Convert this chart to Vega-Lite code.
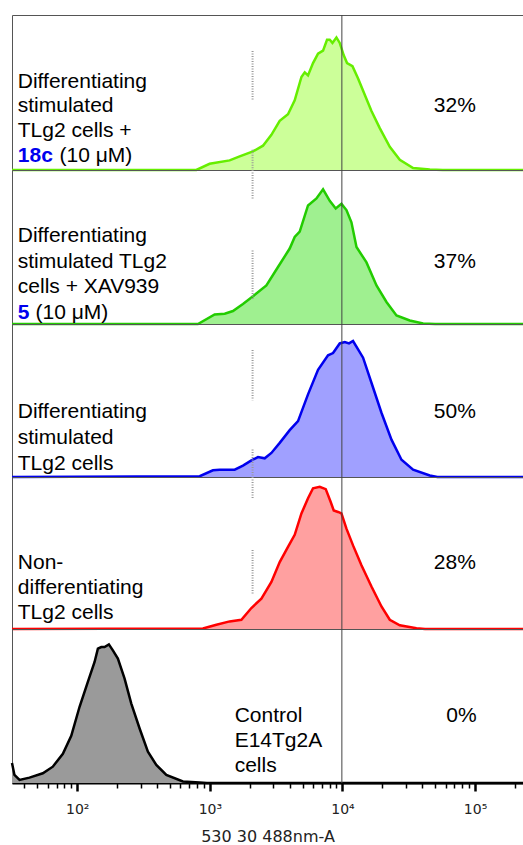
{
  "$schema": "https://vega.github.io/schema/vega-lite/v6.json",
  "background": "white",
  "padding": {"left": 6, "top": 14, "right": 0, "bottom": 0},
  "spacing": 0,
  "bounds": "flush",
  "config": {"view": {"stroke": "#555", "strokeWidth": 1}, "font": "Liberation Sans"},
  "datasets": {
    "curves": [
      {"panel": 1, "x": 32.2, "f": 0}, {"panel": 1, "x": 791, "f": 0}, {"panel": 1, "x": 996, "f": 0.04}, {"panel": 1, "x": 1410, "f": 0.062}, {"panel": 1, "x": 1679, "f": 0.088}, {"panel": 1, "x": 2115, "f": 0.12}, {"panel": 1, "x": 2517, "f": 0.157}, {"panel": 1, "x": 2912, "f": 0.227}, {"panel": 1, "x": 3365, "f": 0.317}, {"panel": 1, "x": 3885, "f": 0.36}, {"panel": 1, "x": 4365, "f": 0.45}, {"panel": 1, "x": 4906, "f": 0.6}, {"panel": 1, "x": 5194, "f": 0.63}, {"panel": 1, "x": 5500, "f": 0.61}, {"panel": 1, "x": 6000, "f": 0.69}, {"panel": 1, "x": 6545, "f": 0.75}, {"panel": 1, "x": 7141, "f": 0.77}, {"panel": 1, "x": 7652, "f": 0.84}, {"panel": 1, "x": 8021, "f": 0.84}, {"panel": 1, "x": 8405, "f": 0.82}, {"panel": 1, "x": 9010, "f": 0.855}, {"panel": 1, "x": 9541, "f": 0.82}, {"panel": 1, "x": 10228, "f": 0.74}, {"panel": 1, "x": 10832, "f": 0.69}, {"panel": 1, "x": 11900, "f": 0.67}, {"panel": 1, "x": 13120, "f": 0.59}, {"panel": 1, "x": 14730, "f": 0.485}, {"panel": 1, "x": 16550, "f": 0.38}, {"panel": 1, "x": 19120, "f": 0.27}, {"panel": 1, "x": 22750, "f": 0.15}, {"panel": 1, "x": 27070, "f": 0.066}, {"panel": 1, "x": 34110, "f": 0.013}, {"panel": 1, "x": 45600, "f": 0.003}, {"panel": 1, "x": 57150, "f": 0}, {"panel": 1, "x": 230000, "f": 0},
      {"panel": 2, "x": 32.2, "f": 0}, {"panel": 2, "x": 813, "f": 0}, {"panel": 2, "x": 1087, "f": 0.062}, {"panel": 2, "x": 1294, "f": 0.067}, {"panel": 2, "x": 1494, "f": 0.084}, {"panel": 2, "x": 1777, "f": 0.13}, {"panel": 2, "x": 2115, "f": 0.18}, {"panel": 2, "x": 2669, "f": 0.25}, {"panel": 2, "x": 3266, "f": 0.37}, {"panel": 2, "x": 4002, "f": 0.49}, {"panel": 2, "x": 4365, "f": 0.565}, {"panel": 2, "x": 4762, "f": 0.6}, {"panel": 2, "x": 5500, "f": 0.77}, {"panel": 2, "x": 6367, "f": 0.815}, {"panel": 2, "x": 7141, "f": 0.875}, {"panel": 2, "x": 8021, "f": 0.8}, {"panel": 2, "x": 8899, "f": 0.75}, {"panel": 2, "x": 9829, "f": 0.78}, {"panel": 2, "x": 10720, "f": 0.74}, {"panel": 2, "x": 11690, "f": 0.66}, {"panel": 2, "x": 12760, "f": 0.5}, {"panel": 2, "x": 15180, "f": 0.4}, {"panel": 2, "x": 18060, "f": 0.25}, {"panel": 2, "x": 21480, "f": 0.143}, {"panel": 2, "x": 25560, "f": 0.056}, {"panel": 2, "x": 32200, "f": 0.023}, {"panel": 2, "x": 40570, "f": 0.003}, {"panel": 2, "x": 50000, "f": 0}, {"panel": 2, "x": 230000, "f": 0},
      {"panel": 3, "x": 32.2, "f": 0}, {"panel": 3, "x": 838, "f": 0.005}, {"panel": 3, "x": 1055, "f": 0.044}, {"panel": 3, "x": 1186, "f": 0.048}, {"panel": 3, "x": 1539, "f": 0.048}, {"panel": 3, "x": 1777, "f": 0.074}, {"panel": 3, "x": 2057, "f": 0.109}, {"panel": 3, "x": 2307, "f": 0.13}, {"panel": 3, "x": 2592, "f": 0.122}, {"panel": 3, "x": 2912, "f": 0.157}, {"panel": 3, "x": 3365, "f": 0.223}, {"panel": 3, "x": 4002, "f": 0.306}, {"panel": 3, "x": 4624, "f": 0.365}, {"panel": 3, "x": 5500, "f": 0.54}, {"panel": 3, "x": 6545, "f": 0.7}, {"panel": 3, "x": 7786, "f": 0.795}, {"panel": 3, "x": 8497, "f": 0.81}, {"panel": 3, "x": 9541, "f": 0.873}, {"panel": 3, "x": 10410, "f": 0.882}, {"panel": 3, "x": 11210, "f": 0.873}, {"panel": 3, "x": 12020, "f": 0.889}, {"panel": 3, "x": 13120, "f": 0.834}, {"panel": 3, "x": 14310, "f": 0.78}, {"panel": 3, "x": 16550, "f": 0.616}, {"panel": 3, "x": 19690, "f": 0.42}, {"panel": 3, "x": 23430, "f": 0.244}, {"panel": 3, "x": 27880, "f": 0.113}, {"panel": 3, "x": 34110, "f": 0.048}, {"panel": 3, "x": 45600, "f": 0.01}, {"panel": 3, "x": 52000, "f": 0}, {"panel": 3, "x": 230000, "f": 0},
      {"panel": 4, "x": 32.2, "f": 0}, {"panel": 4, "x": 887, "f": 0.003}, {"panel": 4, "x": 1120, "f": 0.028}, {"panel": 4, "x": 1410, "f": 0.05}, {"panel": 4, "x": 1729, "f": 0.061}, {"panel": 4, "x": 2057, "f": 0.138}, {"panel": 4, "x": 2448, "f": 0.2}, {"panel": 4, "x": 2912, "f": 0.31}, {"panel": 4, "x": 3365, "f": 0.44}, {"panel": 4, "x": 3885, "f": 0.54}, {"panel": 4, "x": 4365, "f": 0.62}, {"panel": 4, "x": 4906, "f": 0.76}, {"panel": 4, "x": 5500, "f": 0.86}, {"panel": 4, "x": 6000, "f": 0.926}, {"panel": 4, "x": 6743, "f": 0.936}, {"panel": 4, "x": 7482, "f": 0.92}, {"panel": 4, "x": 8118, "f": 0.84}, {"panel": 4, "x": 8596, "f": 0.78}, {"panel": 4, "x": 9264, "f": 0.77}, {"panel": 4, "x": 9829, "f": 0.76}, {"panel": 4, "x": 10720, "f": 0.66}, {"panel": 4, "x": 12020, "f": 0.55}, {"panel": 4, "x": 13910, "f": 0.42}, {"panel": 4, "x": 16550, "f": 0.28}, {"panel": 4, "x": 19690, "f": 0.148}, {"panel": 4, "x": 22750, "f": 0.061}, {"panel": 4, "x": 27070, "f": 0.024}, {"panel": 4, "x": 36180, "f": 0.005}, {"panel": 4, "x": 42000, "f": 0}, {"panel": 4, "x": 230000, "f": 0},
      {"panel": 5, "x": 32.2, "f": 0.13}, {"panel": 5, "x": 33.6, "f": 0.052}, {"panel": 5, "x": 36.7, "f": 0.02}, {"panel": 5, "x": 43.6, "f": 0.035}, {"panel": 5, "x": 55.0, "f": 0.063}, {"panel": 5, "x": 65.4, "f": 0.106}, {"panel": 5, "x": 77.9, "f": 0.19}, {"panel": 5, "x": 90.1, "f": 0.307}, {"panel": 5, "x": 104.1, "f": 0.495}, {"panel": 5, "x": 120.2, "f": 0.657}, {"panel": 5, "x": 135.1, "f": 0.786}, {"panel": 5, "x": 143.1, "f": 0.872}, {"panel": 5, "x": 151.8, "f": 0.883}, {"panel": 5, "x": 160.7, "f": 0.883}, {"panel": 5, "x": 173.2, "f": 0.9}, {"panel": 5, "x": 185.6, "f": 0.861}, {"panel": 5, "x": 202.5, "f": 0.808}, {"panel": 5, "x": 227.5, "f": 0.678}, {"panel": 5, "x": 255.6, "f": 0.516}, {"panel": 5, "x": 295.3, "f": 0.354}, {"panel": 5, "x": 341.1, "f": 0.203}, {"panel": 5, "x": 394.7, "f": 0.117}, {"panel": 5, "x": 469.6, "f": 0.052}, {"panel": 5, "x": 626.6, "f": 0.01}, {"panel": 5, "x": 837.5, "f": 0.003}, {"panel": 5, "x": 950, "f": 0}, {"panel": 5, "x": 230000, "f": 0}
    ],
    "vline": [{"x": 9900}],
    "gates": [
      {"panel": 1, "x": 2100, "f1": 0.768, "f2": 0.453}, {"panel": 1, "x": 2100, "f1": 0.13, "f2": 0.0},
      {"panel": 2, "x": 2100, "f1": 1.0, "f2": 0.814}, {"panel": 2, "x": 2100, "f1": 0.478, "f2": 0.153},
      {"panel": 3, "x": 2100, "f1": 0.83, "f2": 0.502}, {"panel": 3, "x": 2100, "f1": 0.179, "f2": 0.0},
      {"panel": 4, "x": 2100, "f1": 1.0, "f2": 0.855}, {"panel": 4, "x": 2100, "f1": 0.52, "f2": 0.225}
    ],
    "labels": [
      {"panel": 1, "x": 35.6, "f": 0.532, "text": "Differentiating"}, {"panel": 1, "x": 35.6, "f": 0.371, "text": "stimulated"}, {"panel": 1, "x": 35.6, "f": 0.21, "text": "TLg2 cells +"}, {"panel": 1, "x": 73.5, "f": 0.049, "text": "(10 μM)"},
      {"panel": 2, "x": 35.6, "f": 0.531, "text": "Differentiating"}, {"panel": 2, "x": 35.6, "f": 0.366, "text": "stimulated TLg2"}, {"panel": 2, "x": 35.6, "f": 0.2, "text": "cells + XAV939"}, {"panel": 2, "x": 48.4, "f": 0.034, "text": "(10 μM)"},
      {"panel": 3, "x": 35.6, "f": 0.383, "text": "Differentiating"}, {"panel": 3, "x": 35.6, "f": 0.213, "text": "stimulated"}, {"panel": 3, "x": 35.6, "f": 0.049, "text": "TLg2 cells"},
      {"panel": 4, "x": 35.6, "f": 0.393, "text": "Non-"}, {"panel": 4, "x": 35.6, "f": 0.228, "text": "differentiating"}, {"panel": 4, "x": 35.6, "f": 0.064, "text": "TLg2 cells"},
      {"panel": 5, "x": 1538, "f": 0.395, "text": "Control"}, {"panel": 5, "x": 1538, "f": 0.233, "text": "E14Tg2A"}, {"panel": 5, "x": 1538, "f": 0.071, "text": "cells"}
    ],
    "compounds": [
      {"panel": 1, "x": 35.6, "f": 0.049, "text": "18c"},
      {"panel": 2, "x": 35.6, "f": 0.034, "text": "5"}
    ],
    "pct": [
      {"panel": 1, "x": 70390, "f": 0.371, "text": "32%"},
      {"panel": 2, "x": 70390, "f": 0.362, "text": "37%"},
      {"panel": 3, "x": 70390, "f": 0.383, "text": "50%"},
      {"panel": 4, "x": 70390, "f": 0.393, "text": "28%"},
      {"panel": 5, "x": 79070, "f": 0.395, "text": "0%"}
    ]
  },
  "vconcat": [
    {
      "width": 511, "height": 155,
      "encoding": {"x": {"field": "x", "type": "quantitative", "scale": {"type": "log", "domain": [32.2, 230000], "nice": false}, "axis": null}},
      "layer": [
        {"data": {"name": "curves"}, "transform": [{"filter": "datum.panel == 1"}], "mark": {"type": "area", "color": "#ccff99", "opacity": 1, "line": {"color": "#66ee00", "strokeWidth": 2.5}}, "encoding": {"y": {"field": "f", "type": "quantitative", "scale": {"domain": [0, 1], "nice": false}, "axis": null}}},
        {"data": {"name": "gates"}, "transform": [{"filter": "datum.panel == 1"}], "mark": {"type": "rule", "color": "#999", "strokeWidth": 2, "strokeDash": [1, 1.5]}, "encoding": {"y": {"field": "f1", "type": "quantitative", "scale": {"domain": [0, 1], "nice": false}, "axis": null}, "y2": {"field": "f2"}}},
        {"data": {"name": "vline"}, "mark": {"type": "rule", "color": "#444", "strokeWidth": 1}, "encoding": {}},
        {"data": {"name": "labels"}, "transform": [{"filter": "datum.panel == 1"}], "mark": {"type": "text", "align": "left", "baseline": "alphabetic", "fontSize": 21, "font": "Liberation Sans", "color": "#000"}, "encoding": {"y": {"field": "f", "type": "quantitative", "scale": {"domain": [0, 1], "nice": false}, "axis": null}, "text": {"field": "text"}}},
        {"data": {"name": "compounds"}, "transform": [{"filter": "datum.panel == 1"}], "mark": {"type": "text", "align": "left", "baseline": "alphabetic", "fontSize": 21, "fontWeight": "bold", "font": "Liberation Sans", "color": "#0000ee"}, "encoding": {"y": {"field": "f", "type": "quantitative", "scale": {"domain": [0, 1], "nice": false}, "axis": null}, "text": {"field": "text"}}},
        {"data": {"name": "pct"}, "transform": [{"filter": "datum.panel == 1"}], "mark": {"type": "text", "align": "center", "baseline": "alphabetic", "fontSize": 21, "font": "Liberation Sans", "color": "#000"}, "encoding": {"y": {"field": "f", "type": "quantitative", "scale": {"domain": [0, 1], "nice": false}, "axis": null}, "text": {"field": "text"}}}
      ]
    },
    {
      "width": 511, "height": 154,
      "encoding": {"x": {"field": "x", "type": "quantitative", "scale": {"type": "log", "domain": [32.2, 230000], "nice": false}, "axis": null}},
      "layer": [
        {"data": {"name": "curves"}, "transform": [{"filter": "datum.panel == 2"}], "mark": {"type": "area", "color": "#9ff090", "opacity": 1, "line": {"color": "#22cc00", "strokeWidth": 2.5}}, "encoding": {"y": {"field": "f", "type": "quantitative", "scale": {"domain": [0, 1], "nice": false}, "axis": null}}},
        {"data": {"name": "gates"}, "transform": [{"filter": "datum.panel == 2"}], "mark": {"type": "rule", "color": "#999", "strokeWidth": 2, "strokeDash": [1, 1.5]}, "encoding": {"y": {"field": "f1", "type": "quantitative", "scale": {"domain": [0, 1], "nice": false}, "axis": null}, "y2": {"field": "f2"}}},
        {"data": {"name": "vline"}, "mark": {"type": "rule", "color": "#444", "strokeWidth": 1}, "encoding": {}},
        {"data": {"name": "labels"}, "transform": [{"filter": "datum.panel == 2"}], "mark": {"type": "text", "align": "left", "baseline": "alphabetic", "fontSize": 21, "font": "Liberation Sans", "color": "#000"}, "encoding": {"y": {"field": "f", "type": "quantitative", "scale": {"domain": [0, 1], "nice": false}, "axis": null}, "text": {"field": "text"}}},
        {"data": {"name": "compounds"}, "transform": [{"filter": "datum.panel == 2"}], "mark": {"type": "text", "align": "left", "baseline": "alphabetic", "fontSize": 21, "fontWeight": "bold", "font": "Liberation Sans", "color": "#0000ee"}, "encoding": {"y": {"field": "f", "type": "quantitative", "scale": {"domain": [0, 1], "nice": false}, "axis": null}, "text": {"field": "text"}}},
        {"data": {"name": "pct"}, "transform": [{"filter": "datum.panel == 2"}], "mark": {"type": "text", "align": "center", "baseline": "alphabetic", "fontSize": 21, "font": "Liberation Sans", "color": "#000"}, "encoding": {"y": {"field": "f", "type": "quantitative", "scale": {"domain": [0, 1], "nice": false}, "axis": null}, "text": {"field": "text"}}}
      ]
    },
    {
      "width": 511, "height": 153,
      "encoding": {"x": {"field": "x", "type": "quantitative", "scale": {"type": "log", "domain": [32.2, 230000], "nice": false}, "axis": null}},
      "layer": [
        {"data": {"name": "curves"}, "transform": [{"filter": "datum.panel == 3"}], "mark": {"type": "area", "color": "#a0a0ff", "opacity": 1, "line": {"color": "#0000ee", "strokeWidth": 2.5}}, "encoding": {"y": {"field": "f", "type": "quantitative", "scale": {"domain": [0, 1], "nice": false}, "axis": null}}},
        {"data": {"name": "gates"}, "transform": [{"filter": "datum.panel == 3"}], "mark": {"type": "rule", "color": "#999", "strokeWidth": 2, "strokeDash": [1, 1.5]}, "encoding": {"y": {"field": "f1", "type": "quantitative", "scale": {"domain": [0, 1], "nice": false}, "axis": null}, "y2": {"field": "f2"}}},
        {"data": {"name": "vline"}, "mark": {"type": "rule", "color": "#444", "strokeWidth": 1}, "encoding": {}},
        {"data": {"name": "labels"}, "transform": [{"filter": "datum.panel == 3"}], "mark": {"type": "text", "align": "left", "baseline": "alphabetic", "fontSize": 21, "font": "Liberation Sans", "color": "#000"}, "encoding": {"y": {"field": "f", "type": "quantitative", "scale": {"domain": [0, 1], "nice": false}, "axis": null}, "text": {"field": "text"}}},
        {"data": {"name": "pct"}, "transform": [{"filter": "datum.panel == 3"}], "mark": {"type": "text", "align": "center", "baseline": "alphabetic", "fontSize": 21, "font": "Liberation Sans", "color": "#000"}, "encoding": {"y": {"field": "f", "type": "quantitative", "scale": {"domain": [0, 1], "nice": false}, "axis": null}, "text": {"field": "text"}}}
      ]
    },
    {
      "width": 511, "height": 152,
      "encoding": {"x": {"field": "x", "type": "quantitative", "scale": {"type": "log", "domain": [32.2, 230000], "nice": false}, "axis": null}},
      "layer": [
        {"data": {"name": "curves"}, "transform": [{"filter": "datum.panel == 4"}], "mark": {"type": "area", "color": "#ffa0a0", "opacity": 1, "line": {"color": "#ff0000", "strokeWidth": 2.5}}, "encoding": {"y": {"field": "f", "type": "quantitative", "scale": {"domain": [0, 1], "nice": false}, "axis": null}}},
        {"data": {"name": "gates"}, "transform": [{"filter": "datum.panel == 4"}], "mark": {"type": "rule", "color": "#999", "strokeWidth": 2, "strokeDash": [1, 1.5]}, "encoding": {"y": {"field": "f1", "type": "quantitative", "scale": {"domain": [0, 1], "nice": false}, "axis": null}, "y2": {"field": "f2"}}},
        {"data": {"name": "vline"}, "mark": {"type": "rule", "color": "#444", "strokeWidth": 1}, "encoding": {}},
        {"data": {"name": "labels"}, "transform": [{"filter": "datum.panel == 4"}], "mark": {"type": "text", "align": "left", "baseline": "alphabetic", "fontSize": 21, "font": "Liberation Sans", "color": "#000"}, "encoding": {"y": {"field": "f", "type": "quantitative", "scale": {"domain": [0, 1], "nice": false}, "axis": null}, "text": {"field": "text"}}},
        {"data": {"name": "pct"}, "transform": [{"filter": "datum.panel == 4"}], "mark": {"type": "text", "align": "center", "baseline": "alphabetic", "fontSize": 21, "font": "Liberation Sans", "color": "#000"}, "encoding": {"y": {"field": "f", "type": "quantitative", "scale": {"domain": [0, 1], "nice": false}, "axis": null}, "text": {"field": "text"}}}
      ]
    },
    {
      "width": 511, "height": 154,
      "encoding": {"x": {"field": "x", "type": "quantitative", "scale": {"type": "log", "domain": [32.2, 230000], "nice": false},
        "axis": {
          "values": [40, 50, 60, 70, 80, 90, 100, 200, 300, 400, 500, 600, 700, 800, 900, 1000, 2000, 3000, 4000, 5000, 6000, 7000, 8000, 9000, 10000, 20000, 30000, 40000, 50000, 60000, 70000, 80000, 90000, 100000, 200000],
          "labelExpr": "datum.value == 100 ? '10²' : datum.value == 1000 ? '10³' : datum.value == 10000 ? '10⁴' : datum.value == 100000 ? '10⁵' : ''",
          "labelOverlap": false, "labelFlush": false, "labelBound": false,
          "labelFont": "DejaVu Sans", "labelFontSize": 14, "labelColor": "#222", "labelPadding": 11,
          "tickSize": {"condition": {"test": "indexof([100,1000,10000,100000], datum.value) >= 0", "value": 8}, "value": 5},
          "tickWidth": {"condition": {"test": "indexof([100,1000,10000,100000], datum.value) >= 0", "value": 2.5}, "value": 1.5},
          "tickColor": "#000", "domainColor": "#000", "domainWidth": 2, "grid": false,
          "title": "530 30 488nm-A", "titleFont": "DejaVu Sans", "titleFontSize": 16, "titleFontWeight": "normal", "titleColor": "#222", "titlePadding": 12
        }}},
      "layer": [
        {"data": {"name": "curves"}, "transform": [{"filter": "datum.panel == 5"}], "mark": {"type": "area", "color": "#9a9a9a", "opacity": 1, "line": {"color": "#000", "strokeWidth": 2.5}}, "encoding": {"y": {"field": "f", "type": "quantitative", "scale": {"domain": [0, 1], "nice": false}, "axis": null}}},
        {"data": {"name": "vline"}, "mark": {"type": "rule", "color": "#444", "strokeWidth": 1}, "encoding": {}},
        {"data": {"name": "labels"}, "transform": [{"filter": "datum.panel == 5"}], "mark": {"type": "text", "align": "left", "baseline": "alphabetic", "fontSize": 21, "font": "Liberation Sans", "color": "#000"}, "encoding": {"y": {"field": "f", "type": "quantitative", "scale": {"domain": [0, 1], "nice": false}, "axis": null}, "text": {"field": "text"}}},
        {"data": {"name": "pct"}, "transform": [{"filter": "datum.panel == 5"}], "mark": {"type": "text", "align": "center", "baseline": "alphabetic", "fontSize": 21, "font": "Liberation Sans", "color": "#000"}, "encoding": {"y": {"field": "f", "type": "quantitative", "scale": {"domain": [0, 1], "nice": false}, "axis": null}, "text": {"field": "text"}}}
      ]
    }
  ]
}
